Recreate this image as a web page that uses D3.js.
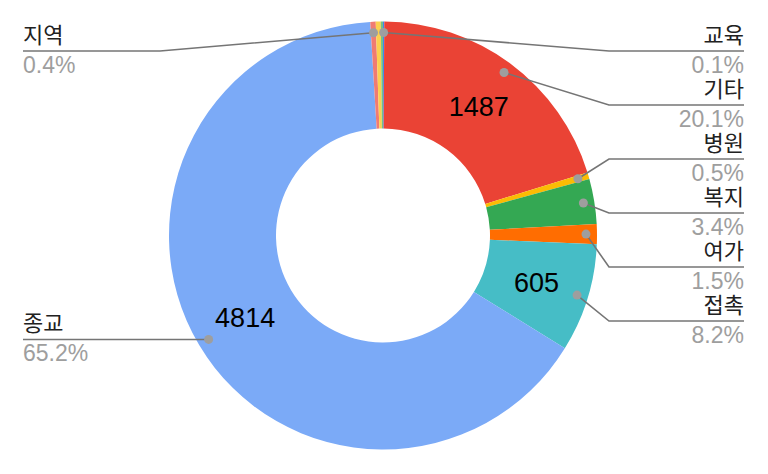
<!DOCTYPE html>
<html>
<head>
<meta charset="utf-8">
<script src="https://cdn.jsdelivr.net/npm/d3@7"></script>
<style>
  html, body { margin: 0; padding: 0; background: #fff; }
  svg { display: block; }
  text { font-family: "Liberation Sans", Arial, "Noto Sans CJK KR", sans-serif; }
</style>
</head>
<body>
<svg id="chart" width="768" height="474"></svg>
<script>
// ---- data ----
const categories = ["교육", "기타", "병원", "복지", "여가", "접촉", "종교", "지역", "항목9", "항목10"];
const values     = [7, 1487, 37, 251, 111, 605, 4814, 30, 28, 12];
const labeled    = ["교육", "기타", "병원", "복지", "여가", "접촉", "종교", "지역"];

// ---- style / layout ----
const palette = ["#4285F4", "#EA4335", "#FBBC04", "#34A853", "#FF6D01", "#46BDC6",
                 "#7BAAF7", "#F07B72", "#FCD04F", "#71C287"];
const W = 768, H = 474;
const cx = 383, cy = 235.5, R = 214, r0 = 107;
const dotR = 203;
const slotTop = 51, slotStep = 54;
const rightElbow = 609, rightEnd = 744, leftElbow = 160, leftEnd = 23;

const svg = d3.select("#chart");
const data = categories.map((c, i) => ({ name: c, value: values[i], color: palette[i] }));
const total = d3.sum(values);
const pct = d3.format(".1%");

const pie = d3.pie().sort(null).value(d => d.value).startAngle(0).endAngle(2 * Math.PI);
const arcs = pie(data);
const arc = d3.arc().innerRadius(r0).outerRadius(R);

const g = svg.append("g").attr("transform", `translate(${cx},${cy})`);
g.selectAll("path.slice").data(arcs).join("path")
  .attr("class", "slice")
  .attr("d", arc)
  .attr("fill", d => d.data.color);

// values inside big slices
g.selectAll("text.val").data(arcs.filter(d => d.data.value / total >= 0.05)).join("text")
  .attr("class", "val")
  .attr("transform", d => `translate(${arc.centroid(d)})`)
  .attr("text-anchor", "middle")
  .attr("dy", "0.36em")
  .attr("font-size", 27)
  .attr("fill", "#000")
  .text(d => d.data.value);

// ---- outside labels ----
const labels = arcs.filter(d => labeled.includes(d.data.name)).map(d => {
  const a = (d.startAngle + d.endAngle) / 2;
  return {
    d, a,
    side: a < Math.PI ? "right" : "left",
    dx: cx + dotR * Math.sin(a),
    dy: cy - dotR * Math.cos(a)
  };
});

function layout(items) {
  items.sort((p, q) => p.dy - q.dy);
  // cluster-based overlap resolution
  let clusters = items.map(it => ({ items: [it], ideal: [it.dy] }));
  const place = c => {
    const mean = d3.mean(c.ideal);
    const n = c.items.length;
    let start = mean - (n - 1) * slotStep / 2;
    c.start = start;
  };
  clusters.forEach(place);
  let merged = true;
  while (merged) {
    merged = false;
    for (let i = 0; i < clusters.length - 1; i++) {
      const a = clusters[i], b = clusters[i + 1];
      const aEnd = Math.max(a.start, slotTop) + (a.items.length - 1) * slotStep;
      const bStart = b.start;
      if (bStart - aEnd < slotStep) {
        const c = { items: a.items.concat(b.items), ideal: a.ideal.concat(b.ideal) };
        place(c);
        clusters.splice(i, 2, c);
        merged = true;
        break;
      }
    }
  }
  clusters.forEach(c => {
    const s = Math.max(c.start, slotTop);
    c.items.forEach((it, k) => { it.ly = s + k * slotStep; });
  });
}
layout(labels.filter(l => l.side === "right"));
layout(labels.filter(l => l.side === "left"));

const lg = svg.append("g");
labels.forEach(l => {
  const elbow = l.side === "right" ? rightElbow : leftElbow;
  const end = l.side === "right" ? rightEnd : leftEnd;
  lg.append("path")
    .attr("d", d3.line()([[l.dx, l.dy], [elbow, l.ly], [end, l.ly]]))
    .attr("fill", "none")
    .attr("stroke", "#757575")
    .attr("stroke-width", 1.6);
  lg.append("circle")
    .attr("cx", l.dx).attr("cy", l.dy).attr("r", 4.5)
    .attr("fill", "#9E9E9E");
  const anchor = l.side === "right" ? "end" : "start";
  lg.append("text")
    .attr("x", end).attr("y", l.ly - 8)
    .attr("text-anchor", anchor)
    .attr("font-size", 22)
    .attr("fill", "#212121")
    .text(l.d.data.name);
  lg.append("text")
    .attr("x", end).attr("y", l.ly + 22)
    .attr("text-anchor", anchor)
    .attr("font-size", 23)
    .attr("fill", "#9E9E9E")
    .text(pct(l.d.data.value / total));
});
</script>
</body>
</html>
